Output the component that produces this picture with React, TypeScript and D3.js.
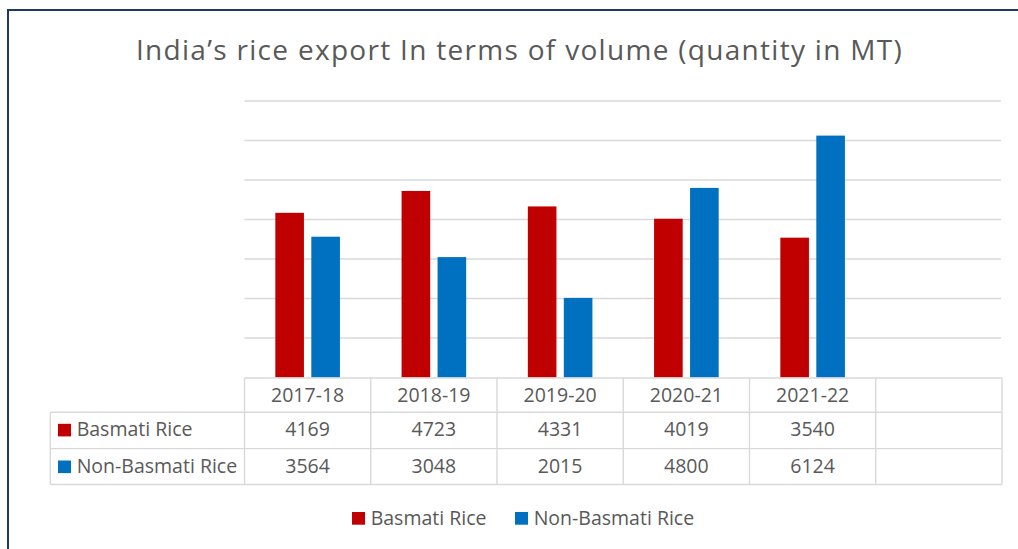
import React from "react";
import * as d3 from "d3";

const categories = ["2017-18", "2018-19", "2019-20", "2020-21", "2021-22", ""];
const seriesNames = ["Basmati Rice", "Non-Basmati Rice"];
const basmati = [4169, 4723, 4331, 4019, 3540];
const nonBasmati = [3564, 3048, 2015, 4800, 6124];
const seriesColors = ["#C00000", "#0070C0"];
const yTicks = [0, 1000, 2000, 3000, 4000, 5000, 6000, 7000];
const title = "India\u2019s rice export In terms of volume (quantity in MT)";

const W = 1018;
const H = 549;
const FONT = "'Open Sans', Lato, sans-serif";
const TEXT = "#595959";
const GRID = "#D9D9D9";

export default function App() {
  const seriesValues = [basmati, nonBasmati];
  const x = d3.scaleBand<string>().domain(categories).range([244.5, 1002]).padding(0);
  const groupW = 64.6;
  const inner = d3
    .scaleBand<string>()
    .domain(seriesNames)
    .range([(x.bandwidth() - groupW) / 2, (x.bandwidth() + groupW) / 2])
    .paddingInner(0.205)
    .paddingOuter(0);
  const y = d3.scaleLinear().domain([0, 7000]).range([377.5, 101]);

  const tableTop = 378;
  const rowBounds = [378, 412.3, 448.6, 484.5];
  const tableLeft = 50.3;
  const colEdges = [...categories.map((c) => x(c) as number), x.range()[1]];

  return (
    <svg
      width={W}
      height={H}
      style={{ position: "absolute", left: 0, top: 0, background: "#fff" }}
      fontFamily={FONT}
    >
      <rect x={0} y={0} width={W} height={H} fill="#fff" />
      <rect x={8} y={10} width={W + 20} height={H + 20} fill="none" stroke="#1F3864" strokeWidth={2} />
      <text x={519.5} y={60} textAnchor="middle" fontSize={28} letterSpacing={1.3} fill={TEXT}>
        {title}
      </text>
      {/* gridlines */}
      {yTicks.slice(1).map((t) => (
        <line key={t} x1={244.5} x2={1001} y1={y(t)} y2={y(t)} stroke={GRID} strokeWidth={1.3} />
      ))}
      {/* bars */}
      {categories.slice(0, 5).map((c, i) => (
        <g key={c} transform={`translate(${x(c)},0)`}>
          {seriesNames.map((s, j) => (
            <rect
              key={s}
              x={inner(s)}
              width={inner.bandwidth()}
              y={y(seriesValues[j][i])}
              height={y(0) - y(seriesValues[j][i])}
              fill={seriesColors[j]}
            />
          ))}
        </g>
      ))}
      {/* table */}
      <g stroke={GRID} strokeWidth={1.4} fill="none">
        <line x1={x.range()[0]} x2={x.range()[1]} y1={tableTop} y2={tableTop} />
        {rowBounds.slice(1).map((yy) => (
          <line key={yy} x1={tableLeft} x2={x.range()[1]} y1={yy} y2={yy} />
        ))}
        {colEdges.map((cx, i) => (
          <line key={i} x1={cx} x2={cx} y1={tableTop} y2={rowBounds[3]} />
        ))}
        <line x1={tableLeft} x2={tableLeft} y1={rowBounds[1]} y2={rowBounds[3]} />
      </g>
      <g fontSize={19.5} fill={TEXT}>
        {categories.map((c) => (
          <text key={"h" + c} x={(x(c) as number) + x.bandwidth() / 2} y={402.3} textAnchor="middle">
            {c}
          </text>
        ))}
        {seriesNames.map((s, j) => {
          const base = j === 0 ? 436 : 472.7;
          return (
            <g key={s}>
              <rect x={58} y={base - 12.2} width={13} height={12.6} fill={seriesColors[j]} />
              <text x={76.7} y={base}>
                {s}
              </text>
              {seriesValues[j].map((v, i) => (
                <text
                  key={i}
                  x={(x(categories[i]) as number) + x.bandwidth() / 2}
                  y={base}
                  textAnchor="middle"
                >
                  {v}
                </text>
              ))}
            </g>
          );
        })}
      </g>
      {/* legend */}
      <g fontSize={19.5} fill={TEXT}>
        {seriesNames.map((s, j) => {
          const lx = j === 0 ? 352 : 515;
          return (
            <g key={s}>
              <rect x={lx} y={512} width={13} height={12.7} fill={seriesColors[j]} />
              <text x={lx + 18.7} y={525}>
                {s}
              </text>
            </g>
          );
        })}
      </g>
    </svg>
  );
}
